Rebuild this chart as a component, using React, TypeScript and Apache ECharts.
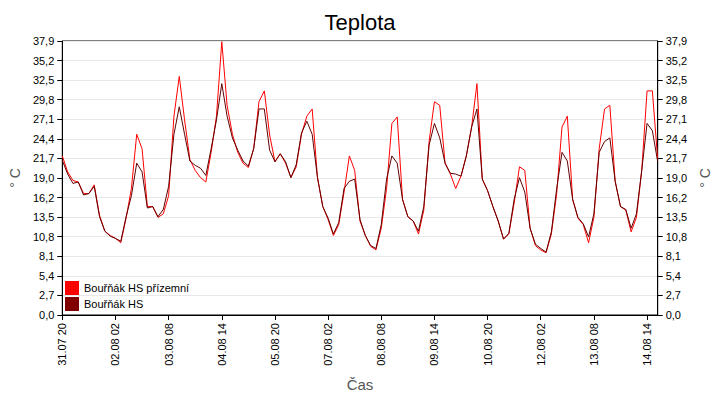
import React, { useEffect, useRef } from "react";
import * as echarts from "echarts";

// 3-hour samples starting 31.07 20:00
const redValues = [
  22.0, 19.8, 18.6, 18.4, 16.8, 16.8, 18.0, 13.8, 11.6, 11.0, 10.6, 10.0, 13.4, 17.5, 25.0, 23.0,
  15.0, 15.0, 13.5, 14.0, 16.5, 27.5, 33.0, 27.0, 21.5, 20.0, 19.0, 18.4, 22.5, 27.5, 37.8, 29.0,
  25.0, 22.5, 21.0, 20.4, 23.0, 29.5, 31.0, 24.9, 21.2, 22.3, 21.0, 19.0, 20.5, 25.0, 27.5, 28.5,
  19.0, 15.0, 13.2, 11.0, 12.5, 17.0, 22.0, 20.0, 13.0, 11.0, 9.5, 9.0, 12.0, 17.5, 26.5, 27.4,
  16.0, 13.6, 13.0, 11.2, 14.5, 24.0, 29.5, 29.0, 21.0, 19.5, 17.5, 19.2, 22.0, 26.0, 32.0, 18.8,
  17.2, 15.0, 13.0, 10.5, 11.2, 15.5, 20.5, 20.0, 12.0, 9.6, 9.0, 8.6, 11.2, 16.8, 26.0, 27.5,
  16.0, 13.4, 12.5, 10.0, 13.5, 23.0, 28.5, 29.0, 18.5, 15.0, 14.5, 11.5, 13.5, 20.0, 31.0, 31.0,
  21.5,
];
const blackValues = [
  21.4, 19.5, 18.2, 18.4, 16.6, 16.8, 17.8, 13.6, 11.6, 10.9, 10.6, 10.2, 13.6, 16.5, 21.0, 19.8,
  14.8, 15.0, 13.6, 14.6, 17.8, 25.0, 28.8, 25.0, 21.3, 20.7, 20.3, 19.3, 23.0, 27.0, 32.0, 27.5,
  24.5, 22.8, 21.3, 20.6, 23.0, 28.5, 28.5, 22.8, 21.2, 22.3, 21.2, 19.0, 20.8, 25.2, 26.8, 25.0,
  19.0, 15.0, 13.4, 11.2, 12.8, 17.5, 18.5, 18.8, 13.2, 11.0, 9.6, 9.2, 12.5, 18.8, 22.0, 21.0,
  16.0, 13.6, 13.0, 11.6, 15.0, 23.5, 26.5, 24.5, 21.0, 19.6, 19.5, 19.2, 22.0, 26.0, 28.5, 18.8,
  17.2, 15.0, 13.0, 10.5, 11.3, 16.0, 19.0, 17.0, 12.0, 9.8, 9.2, 8.7, 11.5, 17.5, 22.5, 21.3,
  16.0, 13.5, 12.6, 10.8, 14.0, 22.5, 24.0, 24.5, 18.5, 15.0, 14.6, 12.0, 14.0, 20.0, 26.5, 25.5,
  21.2,
];
const seriesNames = ["Bouřňák HS přízemní", "Bouřňák HS"];

const pad = (n: number) => String(n).padStart(2, "0");
const start = new Date(2020, 6, 31, 20);
const categories = redValues.map((_, i) => {
  const d = new Date(start.getTime() + i * 3 * 3600 * 1000);
  return `${pad(d.getDate())}.${pad(d.getMonth() + 1)} ${pad(d.getHours())}`;
});

const Y_MAX = 37.9;
const Y_STEP = Y_MAX / 14;
const fmt = (v: number) => (Math.round(v * 10 + 1e-6) / 10).toFixed(1).replace(".", ",");
const font = "Liberation Sans";

const App = () => {
  const chartRef = useRef<HTMLDivElement>(null);

  useEffect(() => {
    document.body.style.margin = "0";
    const chart = echarts.init(chartRef.current as HTMLDivElement, null, { renderer: "svg" });
    const yAxisBase = {
      type: "value",
      min: 0,
      max: Y_MAX,
      interval: Y_STEP,
      name: "° C",
      nameLocation: "middle",
      nameGap: 40,
      nameTextStyle: { fontFamily: font, fontSize: 14, color: "#555" },
      axisLine: { show: true, lineStyle: { color: "#000" } },
      axisTick: { show: true, lineStyle: { color: "#000" } },
      axisLabel: { fontFamily: font, fontSize: 11, color: "#000", formatter: fmt },
    };
    chart.setOption({
      animation: false,
      title: {
        text: "Teplota",
        left: "center",
        top: 6,
        textStyle: { fontFamily: font, fontSize: 22, fontWeight: "normal", color: "#000" },
      },
      grid: { left: 55, right: 55, top: 41, bottom: 85, show: true, borderColor: "#000", borderWidth: 1 },
      legend: {
        orient: "vertical",
        left: 60,
        top: 276,
        icon: "rect",
        itemWidth: 14,
        itemHeight: 14,
        itemGap: 2,
        textStyle: { fontFamily: font, fontSize: 11, color: "#000" },
        data: seriesNames,
      },
      xAxis: {
        type: "category",
        boundaryGap: false,
        data: categories,
        name: "Čas",
        nameLocation: "middle",
        nameGap: 62,
        nameTextStyle: { fontFamily: font, fontSize: 15, color: "#555" },
        axisLine: { lineStyle: { color: "#000" } },
        axisTick: { interval: 9, lineStyle: { color: "#000" } },
        axisLabel: { interval: 9, rotate: 90, fontFamily: font, fontSize: 11, color: "#000" },
        splitLine: { show: false },
      },
      yAxis: [
        { ...yAxisBase, position: "left", splitLine: { show: true, lineStyle: { color: "#e8e8e8" } } },
        { ...yAxisBase, position: "right", splitLine: { show: false } },
      ],
      series: [
        {
          name: seriesNames[0],
          type: "line",
          data: redValues,
          symbol: "none",
          color: "#ff0000",
          lineStyle: { width: 1, color: "#ff0000" },
        },
        {
          name: seriesNames[1],
          type: "line",
          data: blackValues,
          symbol: "none",
          color: "#800000",
          lineStyle: { width: 1, color: "#600000" },
        },
      ],
    });
    return () => chart.dispose();
  }, []);

  return <div ref={chartRef} style={{ width: 720, height: 400 }} />;
};

export default App;
